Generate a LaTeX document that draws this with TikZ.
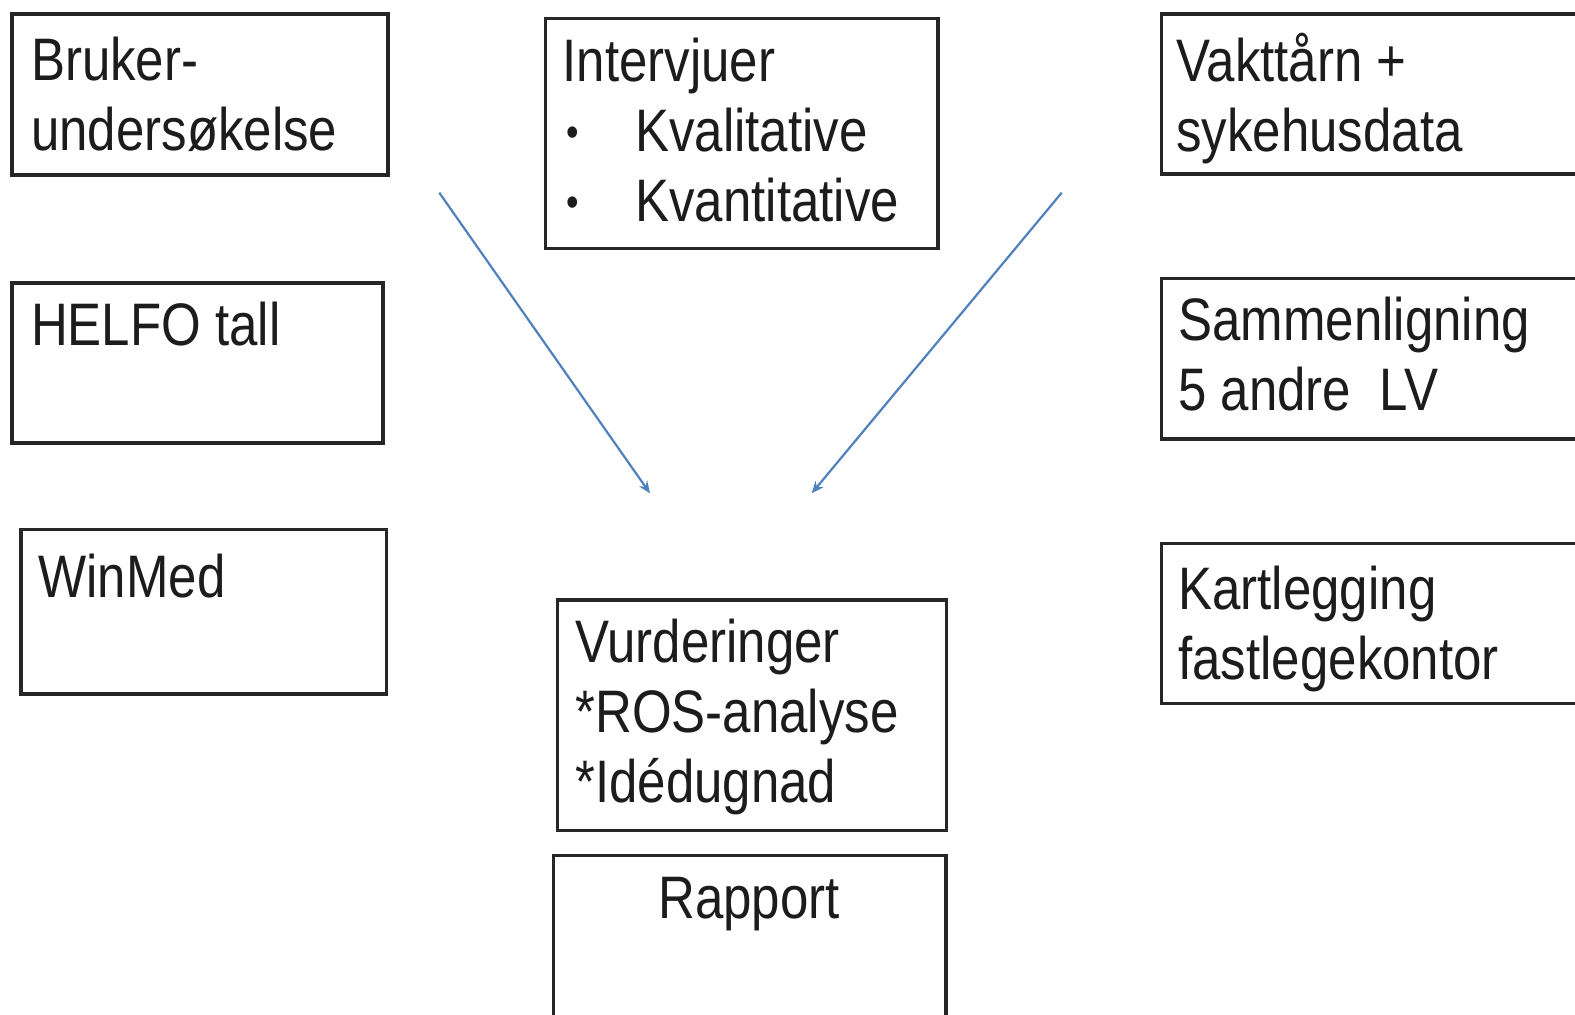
\documentclass[tikz,border=0pt]{standalone}
\usepackage{fontspec}
\setmainfont[FakeStretch=0.85]{Liberation Sans}
\usetikzlibrary{positioning,arrows.meta}

\definecolor{boxline}{HTML}{262626}
\definecolor{textdark}{HTML}{1C1C1C}
\definecolor{arrowblue}{RGB}{79,129,189}

\newcommand{\itembul}{\makebox[36.3pt][l]{\hspace{2pt}\raisebox{2.2pt}{\scalebox{0.7}{•}}}}

\begin{document}
\begin{tikzpicture}[
    x=0.5pt, y=-0.5pt,
    box/.style={rectangle, draw=boxline, line width=1.75pt, outer sep=0pt, inner sep=0pt, anchor=north west},
    txt/.style={anchor=north west, inner sep=0pt, align=left, text=textdark, font=\fontsize{30}{35}\selectfont},
    arr/.style={draw=arrowblue, line width=1.1pt, -{Stealth[length=6pt,width=5pt]}}
]
    \clip (0,0) rectangle (1575,1014);

    % left column
    \node[box, minimum width=188pt, minimum height=80.5pt] (bruker) at (12,14) {};
    \node[txt] (brukertxt) at (30.7,31) {\strut Bruker-\\undersøkelse};

    \node[box, minimum width=185.5pt, minimum height=80pt] (helfo) at (12,283) {};
    \node[txt] (helfotxt) at (30.7,296) {\strut HELFO tall};

    \node[box, minimum width=182.75pt, minimum height=82.25pt] (winmed) at (21,529.5) {};
    \node[txt] (winmedtxt) at (38,547.7) {\strut WinMed};

    % middle column
    \node[box, minimum width=196.25pt, minimum height=115pt] (intervju) at (545.5,18.5) {};
    \node[txt] (intervjutxt) at (562.3,31.7) {\strut Intervjuer\\\itembul Kvalitative\\\itembul Kvantitative};

    \node[box, minimum width=194.5pt, minimum height=115.25pt] (vurd) at (557.5,600) {};
    \node[txt] (vurdtxt) at (575,612.7) {\strut Vurderinger\\*ROS-analyse\\*Idédugnad};

    \node[box, minimum width=196.25pt, minimum height=100pt] (rapport) at (553.5,855.5) {};
    \node[txt, anchor=base] (rapporttxt) at (749,918.3) {Rapport};

    % right column
    \node[box, minimum width=250pt, minimum height=80pt] (vakt) at (1161.5,14) {};
    \node[txt] (vakttxt) at (1176,31.7) {\strut Vakttårn +\\sykehusdata};

    \node[box, minimum width=250pt, minimum height=80.25pt] (sammen) at (1161.5,278.5) {};
    \node[txt] (sammentxt) at (1178,291) {\strut Sammenligning\\5 andre~ LV};

    \node[box, minimum width=250pt, minimum height=80pt] (kart) at (1161.5,543.5) {};
    \node[txt] (karttxt) at (1178,560.3) {\strut Kartlegging\\fastlegekontor};

    % arrows
    \coordinate (pilAstart) at (439.3,192.7);
    \coordinate (pilAend) at (650,493.3);
    \coordinate (pilBstart) at (1061.7,192.7);
    \coordinate (pilBend) at (811.7,493.3);
    \draw[arr] (pilAstart) -- (pilAend);
    \draw[arr] (pilBstart) -- (pilBend);
\end{tikzpicture}
\end{document}
